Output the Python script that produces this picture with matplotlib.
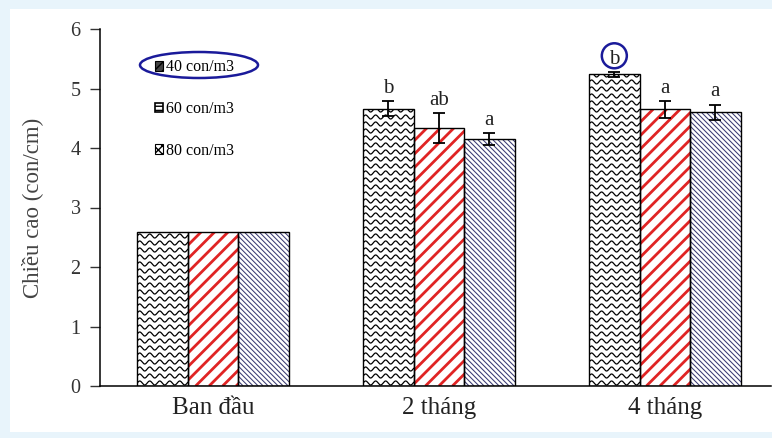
import numpy as np
import matplotlib
matplotlib.use("Agg")
import matplotlib.pyplot as plt
from matplotlib.patches import Rectangle, Ellipse, Patch
from matplotlib.lines import Line2D

plt.rcParams['font.family'] = ['Liberation Serif', 'DejaVu Serif']

groups = ['Ban đầu', '2 tháng', '4 tháng']
series = ['40 con/m3', '60 con/m3', '80 con/m3']
h40 = [2.59, 4.66, 5.24]
h60 = [2.59, 4.34, 4.65]
h80 = [2.59, 4.15, 4.60]
e40 = [0.0, 0.13, 0.04]
e60 = [0.0, 0.25, 0.14]
e80 = [0.0, 0.10, 0.13]
sig40 = ['', 'b', 'b']
sig60 = ['', 'ab', 'a']
sig80 = ['', 'a', 'a']

fig = plt.figure(figsize=(7.72, 4.38), dpi=100, facecolor='#e8f4fb')
# white panel
fig.patches.append(Rectangle((10 / 772, 6 / 438), 762 / 772, 423 / 438,
                             transform=fig.transFigure, facecolor='white',
                             edgecolor='none', zorder=-5))

ax = fig.add_axes([100 / 772, 52 / 438, 671 / 772, 357 / 438])
ax.set_facecolor('none')
ax.set_xlim(-0.5, 2.47)
ax.set_ylim(0, 6)

x = np.arange(len(groups))
w = 0.2235

# pixels per data unit, used to size the fill patterns
sx = ax.bbox.width / (ax.get_xlim()[1] - ax.get_xlim()[0])
sy = ax.bbox.height / (ax.get_ylim()[1] - ax.get_ylim()[0])


def wavy_fill(bar, spacing=7, period=10, amp=2.0, color='black', lw=0.9):
    x0, y0 = bar.get_x(), bar.get_y()
    bw, bh = bar.get_width(), bar.get_height()
    xs = np.linspace(x0, x0 + bw, 200)
    rows = np.arange(y0 + 3 / sy, y0 + bh + spacing / sy, spacing / sy)
    for r in rows:
        ys = r + (amp / sy) * np.sin(2 * np.pi * (xs - x0) * sx / period)
        ln = Line2D(xs, ys, color=color, lw=lw, zorder=2)
        ax.add_line(ln)
        ln.set_clip_path(bar)


def diag_fill(bar, spacing, color, lw, direction=1):
    # spacing is the horizontal gap in pixels between stripes
    x0, y0 = bar.get_x(), bar.get_y()
    bw, bh = bar.get_width(), bar.get_height()
    wpx, hpx = bw * sx, bh * sy
    for c in np.arange(-hpx, wpx + hpx, spacing):
        if direction > 0:
            px = np.array([c, c + hpx])
        else:
            px = np.array([c + hpx, c])
        py = np.array([0, hpx])
        ln = Line2D(x0 + px / sx, y0 + py / sy, color=color, lw=lw,
                    zorder=2, solid_capstyle='butt')
        ax.add_line(ln)
        ln.set_clip_path(bar)


b40 = ax.bar(x - w, h40, w, facecolor='white', edgecolor='none', zorder=1)
b60 = ax.bar(x, h60, w, facecolor='white', edgecolor='none', zorder=1)
b80 = ax.bar(x + w, h80, w, facecolor='white', edgecolor='none', zorder=1)

for bar in b40:
    wavy_fill(bar)
for bar in b60:
    diag_fill(bar, 13.5, '#e02424', 2.0, 1)
for bar in b80:
    diag_fill(bar, 5.0, '#3a3a72', 0.75, -1)

# outlines on top of the fill
for xs_, hs in [(x - w, h40), (x, h60), (x + w, h80)]:
    ax.bar(xs_, hs, w, facecolor='none', edgecolor='black', lw=1.0, zorder=3)

for xs_, hs, es, sig in [(x - w, h40, e40, sig40), (x, h60, e60, sig60),
                         (x + w, h80, e80, sig80)]:
    mask = np.array(es) > 0
    ax.errorbar(xs_[mask], np.array(hs)[mask], yerr=np.array(es)[mask],
                fmt='none', ecolor='black', elinewidth=1.3, capsize=4.5,
                capthick=1.3, zorder=4)
    for xi, hi, ei, s in zip(xs_, hs, es, sig):
        if s:
            ax.text(xi, hi + ei + 0.14, s, ha='center', va='baseline',
                    fontsize=15, color='#222222')

# circle around the letter over the 40 con/m3 bar at 4 months
ax.add_patch(Ellipse((x[2] - w, h40[2] + e40[2] + 0.27), 25 / sx, 25 / sy,
                     facecolor='none', edgecolor='#1a1a9a', lw=1.8, zorder=5))

handles = [Patch(facecolor='#444444', edgecolor='black', hatch='////', lw=0.8),
           Patch(facecolor='white', edgecolor='black', hatch='----', lw=1.2),
           Patch(facecolor='white', edgecolor='black', hatch='xxxx', lw=0.8)]
leg = ax.legend(handles, series, loc='upper left',
                bbox_to_anchor=(0.06, 0.955), frameon=False, fontsize=11.5,
                handlelength=0.55, handleheight=0.55, handletextpad=0.15,
                labelspacing=1.6)

# ellipse marking the first legend entry
fig.patches.append(Ellipse((199 / 772, 1 - 65 / 438), 118 / 772, 26 / 438,
                           transform=fig.transFigure, facecolor='none',
                           edgecolor='#1a1a9a', lw=1.8, zorder=5))

ax.spines['top'].set_visible(False)
ax.spines['right'].set_visible(False)
ax.spines['left'].set_linewidth(1.1)
ax.spines['bottom'].set_linewidth(1.1)
ax.set_yticks(range(0, 7))
ax.tick_params(axis='y', direction='out', length=7, width=1.0,
               labelsize=14.5, colors='#333333', pad=7)
ax.tick_params(axis='x', length=0, labelsize=18, pad=8, colors='#222222')
ax.set_xticks(x)
ax.set_xticklabels(groups)
ax.set_ylabel('Chiều cao (con/cm)', fontsize=16.5, color='#444444')
ax.yaxis.set_label_coords(-57 / 671, 0.5)

fig.savefig('out.png', dpi=100, facecolor=fig.get_facecolor())
